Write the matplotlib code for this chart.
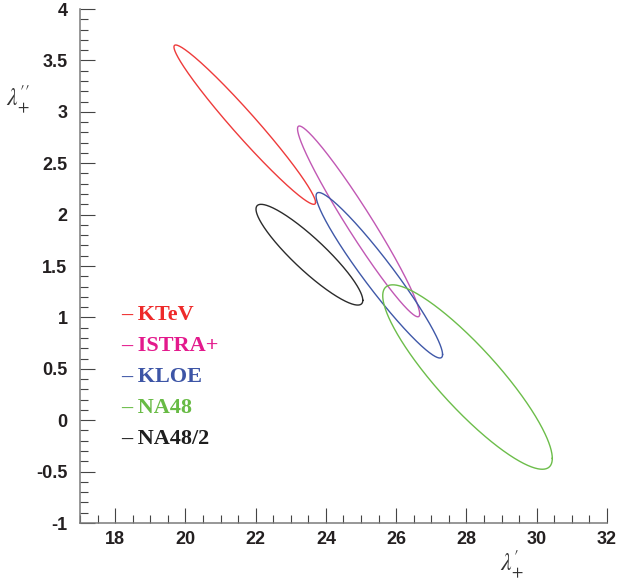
import numpy as np
import matplotlib.pyplot as plt
from matplotlib.ticker import MultipleLocator, FuncFormatter

# measurements: centre, 1-sigma widths and correlation (lambda'_+ , lambda''_+)
experiments = ['KTeV', 'ISTRA+', 'KLOE', 'NA48', 'NA48/2']
x_centre = [21.69, 24.93, 25.52, 28.03, 23.53]
y_centre = [2.875, 1.934, 1.41, 0.42, 1.61]
x_sigma = [2.015, 1.738, 1.80, 2.413, 1.52]
y_sigma = [0.775, 0.928, 0.805, 0.897, 0.49]
corr = [-0.975, -0.970, -0.957, -0.882, -0.905]

ellipse_colors = ['#ee3b3b', '#c158b4', '#3f58a8', '#6cbd4a', '#2b2b2b']
label_colors = ['#ee2a2a', '#e3198c', '#3d55a6', '#68bb45', '#1e1e1e']

plt.rcParams['mathtext.fontset'] = 'stix'

fig = plt.figure(figsize=(6.18, 5.81), dpi=100)
ax = fig.add_axes([0.1294, 0.0998, 0.8528, 0.8847])

t = np.linspace(0, 2 * np.pi, 500)
for i in range(len(experiments)):
    xs = x_centre[i] + x_sigma[i] * np.cos(t)
    ys = y_centre[i] + y_sigma[i] * (corr[i] * np.cos(t) + np.sqrt(1 - corr[i] ** 2) * np.sin(t))
    ax.plot(xs, ys, color=ellipse_colors[i], lw=1.0)

ax.set_xlim(17, 32)
ax.set_ylim(-1, 4)

ax.xaxis.set_major_locator(MultipleLocator(2))
ax.xaxis.set_minor_locator(MultipleLocator(0.5))
ax.yaxis.set_major_locator(MultipleLocator(0.5))
ax.yaxis.set_minor_locator(MultipleLocator(0.1))
ax.yaxis.set_major_formatter(FuncFormatter(lambda v, p: '%g' % v))

for side in ['top', 'right']:
    ax.spines[side].set_visible(False)
for side in ['left', 'bottom']:
    ax.spines[side].set_color('#7a7a7a')
    ax.spines[side].set_linewidth(1.1)

ax.tick_params(which='both', direction='in', color='#444444', width=0.8)
ax.tick_params(which='major', length=11)
ax.tick_params(which='minor', length=5.8)
ax.tick_params(axis='y', which='major', pad=9)
ax.tick_params(axis='x', which='major', pad=6)
for lab in ax.get_xticklabels() + ax.get_yticklabels():
    lab.set_fontfamily('Liberation Sans')
    lab.set_fontweight('bold')
    lab.set_fontsize(13)
    lab.set_color('#231f20')

# legend as coloured text
legend_y = [0.395, 0.335, 0.274, 0.214, 0.154]
for i, name in enumerate(experiments):
    ax.text(0.079, legend_y[i], '\u2013 ' + name, transform=ax.transAxes,
            color=label_colors[i], fontfamily='Liberation Serif', fontweight='bold',
            fontsize=16, va='baseline', ha='left')

fig.text(0.030, 0.828, r'$\lambda^{\prime\prime}_{+}$', fontsize=17, color='#333333',
         ha='center', va='center')
fig.text(0.828, 0.028, r'$\lambda^{\prime}_{+}$', fontsize=17, color='#333333',
         ha='center', va='center')

plt.savefig('out.png', dpi=100)
